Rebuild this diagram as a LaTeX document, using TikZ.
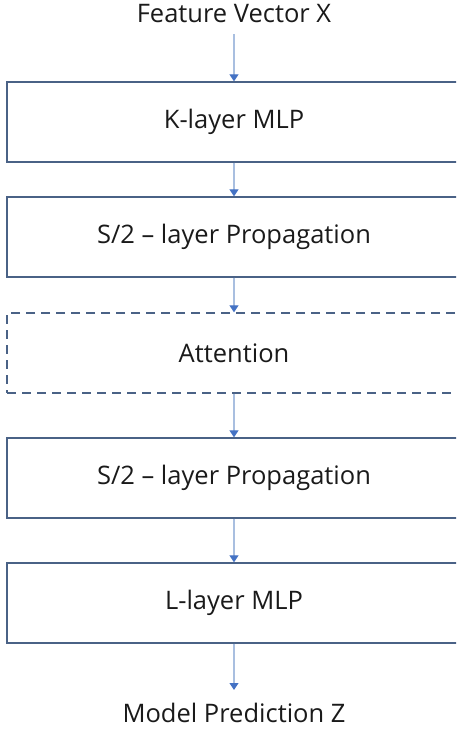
\documentclass[tikz,border=0pt]{standalone}
\usepackage{fontspec}
\setmainfont{Open Sans}
\usetikzlibrary{arrows.meta}
\definecolor{boxline}{HTML}{4A6286}
\definecolor{flowline}{HTML}{A9BFE0}
\definecolor{tipblue}{HTML}{4472C4}
\definecolor{ink}{HTML}{1A1A1A}
\begin{document}
\begin{tikzpicture}[x=1pt,y=1pt,
  stage/.style={draw=boxline, line width=1.3pt, rectangle, minimum width=454pt,
    minimum height=80pt, inner sep=0pt, text=ink, font=\fontsize{25.5}{30}\selectfont},
  dashstage/.style={stage, dash pattern=on 9pt off 6pt},
  label/.style={inner sep=0pt, anchor=base, text=ink, font=\fontsize{25.5}{30}\selectfont},
  arr/.style={draw=flowline, line width=1.2pt,
    -{Triangle[color=tipblue, width=9pt, length=7pt]}}]
\useasboundingbox (0,0) rectangle (456,-731);
\clip (0,0) rectangle (456,-731);

% input and output labels
\node[label] (fx) at (234,-22.7) {Feature Vector X};
\node[label] (mp) at (234,-722) {Model Prediction Z};

% processing stages
\node[stage]     (b1) at (234,-122) {K-layer MLP};
\node[stage]     (b2) at (234,-237) {S/2 – layer Propagation};
\node[dashstage] (b3) at (234,-353) {Attention};
\node[stage]     (b4) at (234,-478) {S/2 – layer Propagation};
\node[stage]     (b5) at (234,-603) {L-layer MLP};

% flow between stages
\draw[arr, shorten <=11.3pt] (fx.base) -- (b1.north);
\draw[arr] (b1.south) -- (b2.north);
\draw[arr] (b2.south) -- (b3.north);
\draw[arr] (b3.south) -- (b4.north);
\draw[arr] (b4.south) -- (b5.north);
\draw[arr, shorten >=32pt] (b5.south) -- (mp.base);
\end{tikzpicture}
\end{document}
